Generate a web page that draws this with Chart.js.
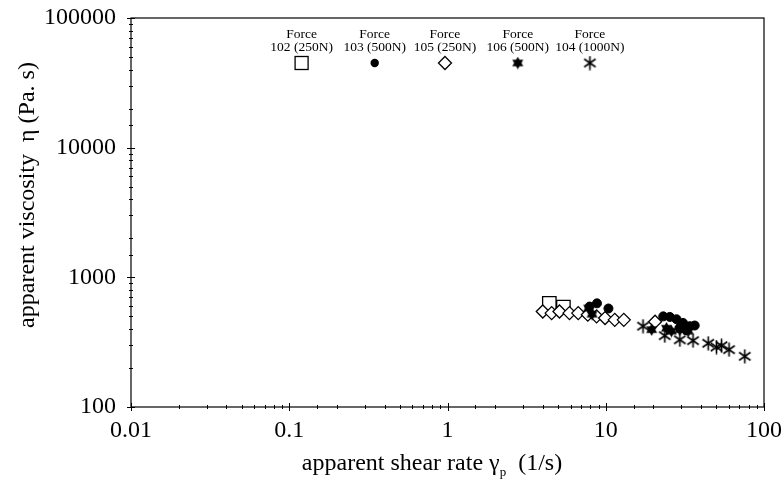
<!DOCTYPE html>
<html>
<head>
<meta charset="utf-8">
<script src="https://cdn.jsdelivr.net/npm/chart.js@4/dist/chart.umd.min.js"></script>
<style>
    html, body { margin: 0; padding: 0; background: #ffffff; }
    #wrap { width: 782px; height: 479px; position: relative; }
</style>
</head>
<body>
<div id="wrap"><canvas id="chart-viscosity"></canvas></div>
<script>
/**
 * Apparent viscosity vs apparent shear rate (log-log).
 * Five force runs, each with its own marker.
 */

const xTickLabels = ['0.01', '0.1', '1', '10', '100'];
const yTickLabels = ['100', '1000', '10000', '100000'];

const seriesTitles = ['102 (250N)', '103 (500N)', '105 (250N)', '106 (500N)', '104 (1000N)'];

// Force 102 (250N) - open squares
const rate102 = [4.4, 5.4];
const visc102 = [630, 590];

// Force 103 (500N) - filled circles
const rate103 = [7.9, 8.8, 10.4, 23.1, 25.4, 28.0, 29.4, 30.8, 32.4, 34.0, 36.5];
const visc103 = [595, 630, 575, 500, 495, 475, 410, 445, 390, 420, 425];

// Force 105 (250N) - open diamonds
const rate105 = [4.0, 4.55, 5.1, 5.9, 6.7, 7.7, 8.75, 9.9, 11.4, 13.0, 20.5];
const visc105 = [545, 530, 545, 530, 530, 515, 500, 485, 470, 470, 455];

// Force 106 (500N) - filled six-point stars
const rate106 = [7.8, 8.2, 19.5, 24.2, 26.0, 29.4, 33.2];
const visc106 = [580, 520, 395, 405, 385, 395, 385];

// Force 104 (1000N) - asterisks
const rate104 = [17.2, 23.6, 29.4, 35.6, 44.4, 50.1, 53.9, 60.1, 75.6];
const visc104 = [420, 355, 330, 325, 310, 290, 297, 277, 246];

const SERIF = '"Liberation Serif", "Times New Roman", serif';

function toPoints(xs, ys) {
    return xs.map((x, i) => ({ x: x, y: ys[i] }));
}

function makeStar(size) {
    const c = document.createElement('canvas');
    c.width = size;
    c.height = size;
    const ctx = c.getContext('2d');
    const r = size / 2;
    ctx.fillStyle = '#000';
    for (const start of [-Math.PI / 2, Math.PI / 2]) {
        ctx.beginPath();
        for (let k = 0; k < 3; k++) {
            const a = start + k * 2 * Math.PI / 3;
            const px = r + Math.cos(a) * r * 0.98;
            const py = r + Math.sin(a) * r * 0.98;
            if (k === 0) ctx.moveTo(px, py); else ctx.lineTo(px, py);
        }
        ctx.closePath();
        ctx.fill();
    }
    return c;
}

function makeAsterisk(size) {
    const c = document.createElement('canvas');
    c.width = size;
    c.height = size;
    const ctx = c.getContext('2d');
    const r = size / 2 - 0.5;
    ctx.strokeStyle = '#000';
    ctx.lineWidth = 1.6;
    ctx.beginPath();
    for (const deg of [90, 35, -35]) {
        const a = deg * Math.PI / 180;
        ctx.moveTo(size / 2 - Math.cos(a) * r, size / 2 - Math.sin(a) * r);
        ctx.lineTo(size / 2 + Math.cos(a) * r, size / 2 + Math.sin(a) * r);
    }
    ctx.stroke();
    return c;
}

const starImg = makeStar(13);
const asteriskImg = makeAsterisk(15);

const datasets = [
    {
        label: seriesTitles[0],
        data: toPoints(rate102, visc102),
        pointStyle: 'rect',
        pointRadius: 9.5,
        borderColor: '#000',
        backgroundColor: 'rgba(255,255,255,0)',
        pointBorderWidth: 1.3,
        order: 5,
    },
    {
        label: seriesTitles[1],
        data: toPoints(rate103, visc103),
        pointStyle: 'circle',
        pointRadius: 4.5,
        borderColor: '#000',
        backgroundColor: '#000',
        pointBorderWidth: 1,
        order: 2,
    },
    {
        label: seriesTitles[2],
        data: toPoints(rate105, visc105),
        pointStyle: 'rectRot',
        pointRadius: 6.5,
        borderColor: '#000',
        backgroundColor: '#fff',
        pointBorderWidth: 1.3,
        order: 4,
    },
    {
        label: seriesTitles[3],
        data: toPoints(rate106, visc106),
        pointStyle: starImg,
        pointRadius: 6.5,
        borderColor: '#000',
        backgroundColor: '#000',
        order: 3,
    },
    {
        label: seriesTitles[4],
        data: toPoints(rate104, visc104),
        pointStyle: asteriskImg,
        pointRadius: 7,
        borderColor: '#000',
        backgroundColor: '#000',
        order: 1,
    },
];

function isDecade(v) {
    const lg = Math.log10(v);
    return Math.abs(lg - Math.round(lg)) < 1e-6;
}

function decadeLabel(v, labels) {
    if (!isDecade(v)) return '';
    const hit = labels.find(l => Math.abs(Math.log10(parseFloat(l)) - Math.log10(v)) < 1e-6);
    return hit || '';
}

// frame, tick marks, axis titles and the in-plot legend
const decorPlugin = {
    id: 'decor',
    afterDraw(chart) {
        const ctx = chart.ctx;
        const area = chart.chartArea;
        const xs = chart.scales.x;
        const ys = chart.scales.y;

        ctx.save();
        ctx.strokeStyle = '#000';
        ctx.lineWidth = 1.2;
        ctx.strokeRect(area.left, area.top, area.right - area.left, area.bottom - area.top);

        ctx.lineWidth = 1;
        ctx.beginPath();
        ys.ticks.forEach(t => {
            const y = Math.round(ys.getPixelForValue(t.value)) + 0.5;
            const len = isDecade(t.value) ? 4 : 2;
            ctx.moveTo(area.left - len, y);
            ctx.lineTo(area.left + len, y);
        });
        xs.ticks.forEach(t => {
            const x = Math.round(xs.getPixelForValue(t.value)) + 0.5;
            const len = isDecade(t.value) ? 4 : 2;
            ctx.moveTo(x, area.bottom - len);
            ctx.lineTo(x, area.bottom + len);
        });
        ctx.stroke();

        // x title with subscript p
        ctx.fillStyle = '#000';
        ctx.textBaseline = 'alphabetic';
        ctx.textAlign = 'left';
        const partA = 'apparent shear rate \u03B3';
        const partB = '  (1/s)';
        ctx.font = '24px ' + SERIF;
        const wA = ctx.measureText(partA).width;
        const wB = ctx.measureText(partB).width;
        ctx.font = '13px ' + SERIF;
        const wP = ctx.measureText('p').width;
        const total = wA + wP + wB;
        const cx = 432;
        const baseY = 470;
        const x0 = cx - total / 2;
        ctx.font = '24px ' + SERIF;
        ctx.fillText(partA, x0, baseY);
        ctx.font = '13px ' + SERIF;
        ctx.fillText('p', x0 + wA, baseY + 6);
        ctx.font = '24px ' + SERIF;
        ctx.fillText(partB, x0 + wA + wP, baseY);

        // y title, rotated
        ctx.save();
        ctx.translate(28, 195);
        ctx.rotate(-Math.PI / 2);
        ctx.textAlign = 'center';
        ctx.textBaseline = 'middle';
        ctx.font = '24px ' + SERIF;
        ctx.fillText('apparent viscosity  \u03B7 (Pa. s)', 0, 0);
        ctx.restore();

        // legend row inside the plot
        const w = area.right - area.left;
        const fracs = [0.2695, 0.385, 0.496, 0.611, 0.725];
        ctx.textAlign = 'center';
        ctx.textBaseline = 'middle';
        datasets.forEach((ds, i) => {
            const lx = area.left + fracs[i] * w;
            ctx.font = '13.5px ' + SERIF;
            ctx.fillText('Force', lx, area.top + 16);
            ctx.fillText(ds.label, lx, area.top + 29);
            const my = area.top + 45;
            const style = ds.pointStyle;
            ctx.beginPath();
            if (typeof style !== 'string') {
                ctx.drawImage(style, lx - style.width / 2, my - style.height / 2);
            } else if (style === 'rect') {
                ctx.lineWidth = 1.3;
                ctx.strokeRect(lx - 6.5, my - 6.5, 13, 13);
            } else if (style === 'circle') {
                ctx.arc(lx, my, 4.2, 0, Math.PI * 2);
                ctx.fill();
            } else if (style === 'rectRot') {
                ctx.lineWidth = 1.3;
                ctx.moveTo(lx, my - 6.5);
                ctx.lineTo(lx + 6.5, my);
                ctx.lineTo(lx, my + 6.5);
                ctx.lineTo(lx - 6.5, my);
                ctx.closePath();
                ctx.stroke();
            }
        });
        ctx.restore();
    },
};

let viscosityChart = new Chart(document.getElementById('chart-viscosity'), {
    type: 'scatter',
    data: { datasets: datasets },
    plugins: [decorPlugin],
    options: {
        responsive: true,
        maintainAspectRatio: false,
        animation: false,
        layout: { padding: { left: 0, top: 18, right: 17, bottom: 0 } },
        plugins: {
            legend: { display: false },
            tooltip: { enabled: false },
        },
        scales: {
            x: {
                type: 'logarithmic',
                min: 0.01,
                max: 100,
                grid: { display: false, tickLength: 9 },
                border: { display: false },
                ticks: {
                    autoSkip: false,
                    maxRotation: 0,
                    color: '#000',
                    padding: 0,
                    font: { family: SERIF, size: 24 },
                    callback: v => decadeLabel(v, xTickLabels),
                },
                afterFit: scale => { scale.height = 72; },
            },
            y: {
                type: 'logarithmic',
                min: 100,
                max: 100000,
                grid: { display: false, tickLength: 15 },
                border: { display: false },
                ticks: {
                    autoSkip: false,
                    color: '#000',
                    padding: 0,
                    font: { family: SERIF, size: 24 },
                    callback: v => decadeLabel(v, yTickLabels),
                },
                afterFit: scale => { scale.width = 131; },
            },
        },
    },
});
</script>
</body>
</html>
